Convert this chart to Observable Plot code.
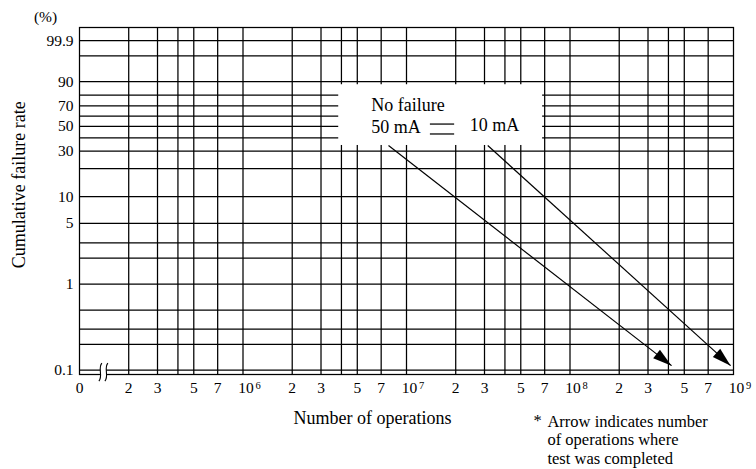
<!DOCTYPE html>
<html><head><meta charset="utf-8">
<script src="https://cdn.jsdelivr.net/npm/d3@7"></script>
<script src="https://cdn.jsdelivr.net/npm/@observablehq/plot@0.6"></script>
<style>body{margin:0;background:#fff}</style>
</head><body><div id="chart"></div>
<script>
// ---- data ----
const yGridPct = [0.1, 0.2, 0.3, 0.5, 1, 2, 3, 5, 10, 20, 30, 40, 50, 60, 70, 80, 90, 99, 99.9];
const yTickPct = [0.1, 1, 5, 10, 30, 50, 70, 90, 99.9];
const yTickLabels = ["0.1", "1", "5", "10", "30", "50", "70", "90", "99.9"];
const yDomainPct = [0.0891, 99.9947];

const xGrid = [2e5, 3e5, 4e5, 5e5, 7e5, 1e6, 2e6, 3e6, 4e6, 5e6, 7e6, 1e7, 2e7, 3e7, 4e7, 5e7, 7e7, 1e8, 2e8, 3e8, 4e8, 5e8, 7e8];
const xTickVals = [1e5, 2e5, 3e5, 5e5, 7e5, 2e6, 3e6, 5e6, 7e6, 2e7, 3e7, 5e7, 7e7, 2e8, 3e8, 5e8, 7e8];
const xTickLabels = ["0", "2", "3", "5", "7", "2", "3", "5", "7", "2", "3", "5", "7", "2", "3", "5", "7"];
const decades = [1e6, 1e7, 1e8, 1e9];
const decadeExp = ["6", "7", "8", "9"];
const xDomain = [1e5, 1e9];

// series (arrows: test completed with no failure)
const series = ["50 mA", "10 mA"];
const startOps = [7.76e6, 3.14e7];
const startPct = [34, 34];
const endOps = [4.18e8, 9.6e8];
const endPct = [0.113, 0.113];

// annotation box
const boxOps = [3.85e6, 6.8e7];
const boxPct = [34, 88];
const legendText = ["No failure", "50 mA", "10 mA"];
const legendOps = [6.08e6, 6.08e6, 2.44e7];
const legendPct = [71, 49, 51.5];
const eqOps = [1.40e7, 1.97e7];
const eqPct = [52.2, 43.2];

const breakOps = 1.4e5;
const breakPct = 0.0952;
const yLabelPct = 13.5;
const xLabelOps = 6.2e6;
const noteStarOps = 5.98e7;
const noteOps = 7.28e7;

// ---- layout ----
const W = 756, H = 469, mL = 79, mR = 23, mT = 27, mB = 95;
const weib = p => Math.log(-Math.log(1 - p / 100));
const yDomain = yDomainPct.map(weib);

const sx = d3.scaleLog().domain(xDomain).range([mL, W - mR]);
const sy = d3.scaleLinear().domain(yDomain).range([H - mB, mT]);

const arrows = series.map((s, i) => ({
  s, x1: startOps[i], y1: weib(startPct[i]), x2: endOps[i], y2: weib(endPct[i])
}));

function headSymbol(theta) {
  const c = Math.cos(theta), s = Math.sin(theta);
  const rot = ([x, y]) => [x * c - y * s, x * s + y * c];
  return {
    draw(ctx) {
      const p = [[0, 0], [-5.5, 19], [5.5, 19]].map(rot);
      ctx.moveTo(p[0][0], p[0][1]);
      ctx.lineTo(p[1][0], p[1][1]);
      ctx.lineTo(p[2][0], p[2][1]);
      ctx.closePath();
    }
  };
}
const breakBg = {
  draw(ctx) {
    ctx.moveTo(-1.5, -9);
    ctx.bezierCurveTo(-6, -4, 0, 4, -4.5, 9);
    ctx.lineTo(1.5, 9);
    ctx.bezierCurveTo(6, 4, 0, -4, 4.5, -9);
    ctx.closePath();
  }
};
const breakLines = {
  draw(ctx) {
    ctx.moveTo(-1.5, -9);
    ctx.bezierCurveTo(-6, -4, 0, 4, -4.5, 9);
    ctx.moveTo(4.5, -9);
    ctx.bezierCurveTo(0, -4, 6, 4, 1.5, 9);
  }
};

const heads = arrows.map(a => {
  const dx = sx(a.x2) - sx(a.x1), dy = sy(a.y2) - sy(a.y1);
  const theta = Math.atan2(dx, -dy);
  return Plot.dot([a], {x: "x2", y: "y2", symbol: headSymbol(theta), fill: "black", stroke: "none"});
});

const FS = 18, TS = 15.5, SW = 1.25, NS = 16.5;

const plot = Plot.plot({
  width: W, height: H,
  marginLeft: mL, marginRight: mR, marginTop: mT, marginBottom: mB,
  style: {fontFamily: "'Liberation Serif', 'Times New Roman', serif", background: "white", color: "black"},
  x: {type: "log", domain: xDomain, axis: null},
  y: {type: "linear", domain: yDomain, axis: null},
  marks: [
    Plot.ruleY(yGridPct.map(weib), {stroke: "black", strokeWidth: SW}),
    Plot.ruleX(xGrid, {stroke: "black", strokeWidth: SW}),
    Plot.frame({stroke: "black", strokeWidth: SW}),
    // white annotation box
    Plot.rect([0], {x1: boxOps[0], x2: boxOps[1], y1: weib(boxPct[0]), y2: weib(boxPct[1]), fill: "white"}),
    Plot.text(legendText, {x: (d, i) => legendOps[i], y: (d, i) => weib(legendPct[i]), text: d => d,
      textAnchor: "start", lineAnchor: "middle", fontSize: FS}),
    Plot.ruleY(eqPct.map(weib), {x1: eqOps[0], x2: eqOps[1], stroke: "black", strokeWidth: SW}),
    // arrows
    Plot.link(arrows, {x1: "x1", y1: "y1", x2: "x2", y2: "y2", stroke: "black", strokeWidth: 1.2}),
    ...heads,
    // axis break
    Plot.dot([0], {x: breakOps, y: weib(breakPct), symbol: breakBg, fill: "white", stroke: "none"}),
    Plot.dot([0], {x: breakOps, y: weib(breakPct), symbol: breakLines, fill: "none", stroke: "black", strokeWidth: 1.1}),
    // y tick labels
    Plot.text(yTickPct, {y: d => weib(d), text: (d, i) => yTickLabels[i], frameAnchor: "left",
      textAnchor: "end", lineAnchor: "middle", dx: -6, fontSize: TS}),
    // x tick labels
    Plot.text(xTickVals, {x: d => d, text: (d, i) => xTickLabels[i], frameAnchor: "bottom",
      textAnchor: "middle", lineAnchor: "middle", dy: 14, fontSize: TS}),
    Plot.text(decades, {x: d => d, text: () => "10", frameAnchor: "bottom",
      textAnchor: "middle", lineAnchor: "middle", dy: 14, dx: 3, fontSize: TS}),
    Plot.text(decades, {x: d => d, text: (d, i) => decadeExp[i], frameAnchor: "bottom",
      textAnchor: "middle", lineAnchor: "middle", dy: 11, dx: 15, fontSize: 10.5}),
    // axis titles
    Plot.text(["(%)"], {frameAnchor: "top-left", text: d => d, dx: -34, dy: -10,
      textAnchor: "middle", lineAnchor: "middle", fontSize: TS}),
    Plot.text(["Cumulative failure rate"], {y: weib(yLabelPct), text: d => d, frameAnchor: "left",
      dx: -60, rotate: -90, textAnchor: "middle", lineAnchor: "middle", fontSize: FS}),
    Plot.text(["Number of operations"], {x: xLabelOps, text: d => d, frameAnchor: "bottom",
      dy: 44, textAnchor: "middle", lineAnchor: "middle", fontSize: FS}),
    // footnote
    Plot.text(["*"], {x: noteStarOps, text: d => d, frameAnchor: "bottom", dy: 40,
      textAnchor: "start", lineAnchor: "top", fontSize: NS}),
    Plot.text(["Arrow indicates number\nof operations where\ntest was completed"], {x: noteOps, text: d => d,
      frameAnchor: "bottom", dy: 39, textAnchor: "start", lineAnchor: "top", lineHeight: 1.12, fontSize: NS})
  ]
});
document.getElementById("chart").append(plot);
</script>
</body></html>
